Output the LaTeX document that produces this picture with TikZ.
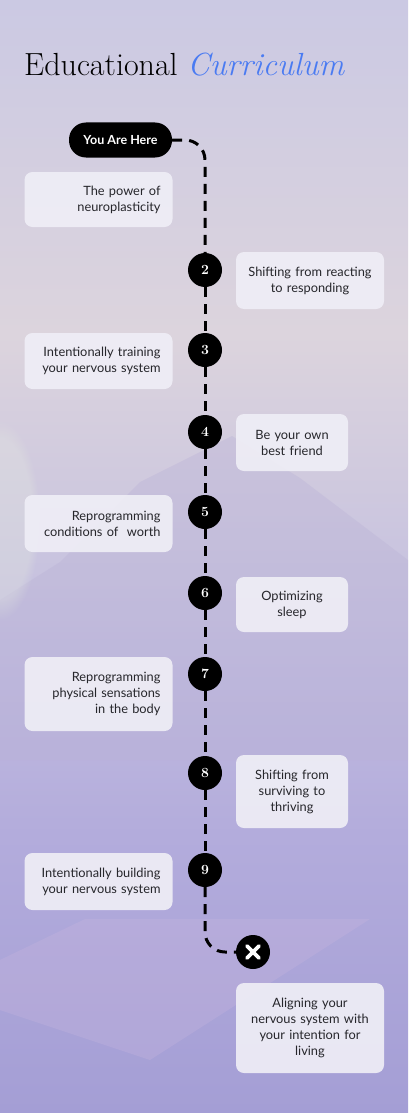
\documentclass[tikz,border=0pt]{standalone}
\usepackage{fontspec}
\newfontfamily\bodyfont{Lato}
\usetikzlibrary{positioning,fadings}

\definecolor{bgtop}{HTML}{CBC9E3}
\definecolor{bgwarm}{HTML}{DCD4DD}
\definecolor{bgmid}{HTML}{C9C4DF}
\definecolor{bglow}{HTML}{B3ACDC}
\definecolor{bgbot}{HTML}{A49ED5}
\definecolor{hillcol}{HTML}{B9B1D6}
\definecolor{wedgecol}{HTML}{C9B6DE}
\definecolor{glowcol}{HTML}{E6ECE2}
\definecolor{boxfill}{HTML}{EFEEF6}
\definecolor{textgray}{HTML}{26262B}
\definecolor{titleblue}{HTML}{4A7BF2}

\pgfdeclareverticalshading{skyshade}{100bp}{color(0bp)=(bgbot); color(25bp)=(bgbot);
  color(37.5bp)=(bglow); color(50bp)=(bgmid); color(60bp)=(bgwarm); color(75bp)=(bgtop); color(100bp)=(bgtop)}

\tikzset{
  topic/.style={fill=boxfill, fill opacity=0.92, text opacity=1, rounded corners=8pt,
    text=textgray, font=\bodyfont\fontsize{12.8}{16}\selectfont, inner sep=0pt},
  lefttopic/.style={topic, minimum width=148pt, text width=124pt, align=right},
  righttopic/.style={topic, minimum width=148pt, text width=132pt, align=center},
  shorttopic/.style={topic, minimum width=112pt, text width=100pt, align=center},
  stepdot/.style={circle, fill=black, minimum size=34pt, inner sep=0pt, text=white,
    font=\bfseries\fontsize{14}{14}\selectfont},
  hereplate/.style={fill=black, rounded corners=17pt, minimum width=103pt, minimum height=35pt,
    text=white, font=\bodyfont\bfseries\fontsize{12.5}{14}\selectfont},
  trail/.style={line width=3pt, dash pattern=on 10pt off 7pt, rounded corners=20pt}
}

\begin{document}
\begin{tikzpicture}[x=1pt,y=-1pt]
\useasboundingbox (0,0) rectangle (408,1113);
% background
\fill[shading=skyshade] (0,0) rectangle (408,1113);
\fill[hillcol, opacity=0.35] (0,600) -- (60,562) -- (140,482) -- (232,436) -- (300,478) -- (408,560) -- (408,760) -- (0,760) -- cycle;
\fill[glowcol, opacity=0.3, path fading=circle with fuzzy edge 20 percent] (0,520) ellipse (40 and 100);
\fill[wedgecol, opacity=0.3] (85,919) -- (370,919) -- (150,1060) -- (0,1010) -- (0,960) -- cycle;

% title
\node[anchor=base west, inner sep=0pt, font=\fontsize{32}{36}\selectfont] (title) at (24,76)
  {Educational \textcolor{titleblue}{\itshape Curriculum}};

% steps
\node[hereplate] (here) at (120.5,140) {You Are Here};
\node[stepdot] (n2) at (205,270) {2};
\node[stepdot] (n3) at (205,350) {3};
\node[stepdot] (n4) at (205,432) {4};
\node[stepdot] (n5) at (205,512) {5};
\node[stepdot] (n6) at (205,593) {6};
\node[stepdot] (n7) at (205,674) {7};
\node[stepdot] (n8) at (205,773) {8};
\node[stepdot] (n9) at (205,870) {9};
\node[stepdot] (xend) at (253,952) {};
\draw[white, line width=3.8pt, line cap=round] ([shift={(-6,-6)}]xend.center) -- ([shift={(6,6)}]xend.center);
\draw[white, line width=3.8pt, line cap=round] ([shift={(-6,6)}]xend.center) -- ([shift={(6,-6)}]xend.center);

% topics
\node[lefttopic, minimum height=55pt] (t1) at (98.5,199.5) {The power of\\neuroplasticity};
\node[righttopic, minimum height=57pt] (t2) at (310,280.5) {Shifting from reacting\\to responding};
\node[lefttopic, minimum height=56pt] (t3) at (98.5,361) {Intentionally training\\your nervous system};
\node[shorttopic, minimum height=57pt] (t4) at (292,442.5) {Be your own\\best friend};
\node[lefttopic, minimum height=57pt] (t5) at (98.5,523.5) {Reprogramming\\conditions of~ worth};
\node[shorttopic, minimum height=55pt] (t6) at (292,604.5) {Optimizing\\sleep};
\node[lefttopic, minimum height=74pt] (t7) at (98.5,694) {Reprogramming\\physical sensations\\in the body};
\node[shorttopic, minimum height=73pt] (t8) at (292,791.5) {Shifting from\\surviving to\\thriving};
\node[lefttopic, minimum height=57pt] (t9) at (98.5,881.5) {Intentionally building\\your nervous system};
\node[righttopic, minimum height=90pt] (t10) at (310,1028) {Aligning your\\nervous system with\\your intention for\\living};

% path
\draw[trail] (here.east) -| (n2.north);
\foreach \a/\b in {n2/n3,n3/n4,n4/n5,n5/n6,n6/n7,n7/n8,n8/n9}
  \draw[trail] (\a.south) -- (\b.north);
\draw[trail] (n9.south) |- (xend.west);
\end{tikzpicture}
\end{document}
